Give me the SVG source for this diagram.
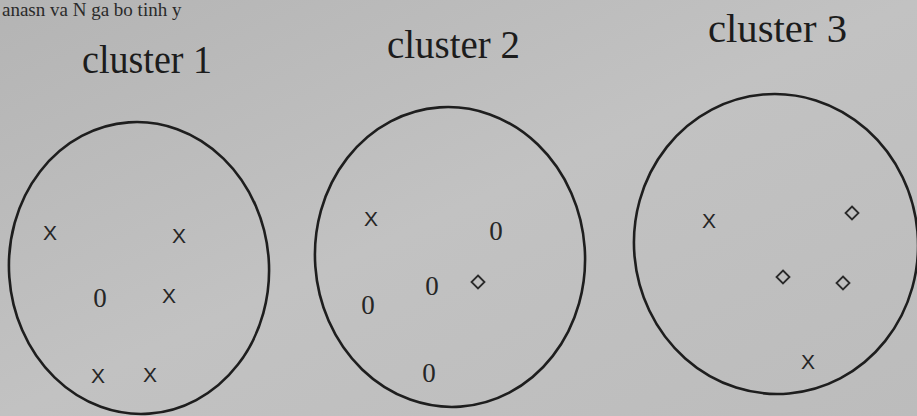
<svg xmlns="http://www.w3.org/2000/svg" width="917" height="416" viewBox="0 0 917 416">
  <defs>
    <linearGradient id="bg" x1="0" y1="0" x2="1" y2="1">
      <stop offset="0" stop-color="#b4b4b4"/>
      <stop offset="0.5" stop-color="#c2c2c2"/>
      <stop offset="1" stop-color="#bcbcbc"/>
    </linearGradient>
    <polygon id="dia" points="0,-6.5 6.5,0 0,6.5 -6.5,0" fill="none" stroke="#2a2a2a" stroke-width="1.8"/>
  </defs>
  <style>
    .ring { fill: none; stroke: #1e1e1e; stroke-width: 2.6; }
    .lbl { font-family: "Liberation Serif", "DejaVu Serif", serif; font-size: 39px; fill: #1c1c1c; }
    .x { font-family: "Liberation Sans", "DejaVu Sans", sans-serif; font-size: 21px; fill: #262626; text-anchor: middle; }
    .o { font-family: "Liberation Serif", "DejaVu Serif", serif; font-size: 27px; fill: #262626; text-anchor: middle; }
    .top { font-family: "Liberation Serif", "DejaVu Serif", serif; font-size: 19px; fill: #2a2a2a; }
  </style>
  <rect width="917" height="416" fill="url(#bg)"/>
  <text class="top" x="2" y="16">anasn va N ga bo tinh y</text>

  <g id="cluster1">
    <text class="lbl" x="82" y="73" textLength="130" lengthAdjust="spacingAndGlyphs">cluster 1</text>
    <ellipse class="ring" cx="139" cy="268" rx="130" ry="146" transform="rotate(-4 139 268)"/>
    <text class="x" x="50" y="240">X</text>
    <text class="x" x="179" y="243">X</text>
    <text class="o" x="100" y="307">0</text>
    <text class="x" x="169" y="303">X</text>
    <text class="x" x="98" y="383">X</text>
    <text class="x" x="150" y="382">X</text>
  </g>

  <g id="cluster2">
    <text class="lbl" x="387" y="58" textLength="133" lengthAdjust="spacingAndGlyphs">cluster 2</text>
    <ellipse class="ring" cx="450" cy="257" rx="135" ry="150" transform="rotate(-4 450 257)"/>
    <text class="x" x="371" y="226">X</text>
    <text class="o" x="496" y="240">0</text>
    <text class="o" x="432" y="295">0</text>
    <use href="#dia" x="478" y="282"/>
    <text class="o" x="368" y="314">0</text>
    <text class="o" x="429" y="382">0</text>
  </g>

  <g id="cluster3">
    <text class="lbl" x="708" y="42" textLength="139" lengthAdjust="spacingAndGlyphs">cluster 3</text>
    <ellipse class="ring" cx="776" cy="244" rx="142" ry="150" transform="rotate(-5 776 244)"/>
    <text class="x" x="709" y="228">X</text>
    <use href="#dia" x="852" y="213"/>
    <use href="#dia" x="783" y="277"/>
    <use href="#dia" x="843" y="283"/>
    <text class="x" x="808" y="369">X</text>
  </g>

  <g id="connectors"/>
</svg>
